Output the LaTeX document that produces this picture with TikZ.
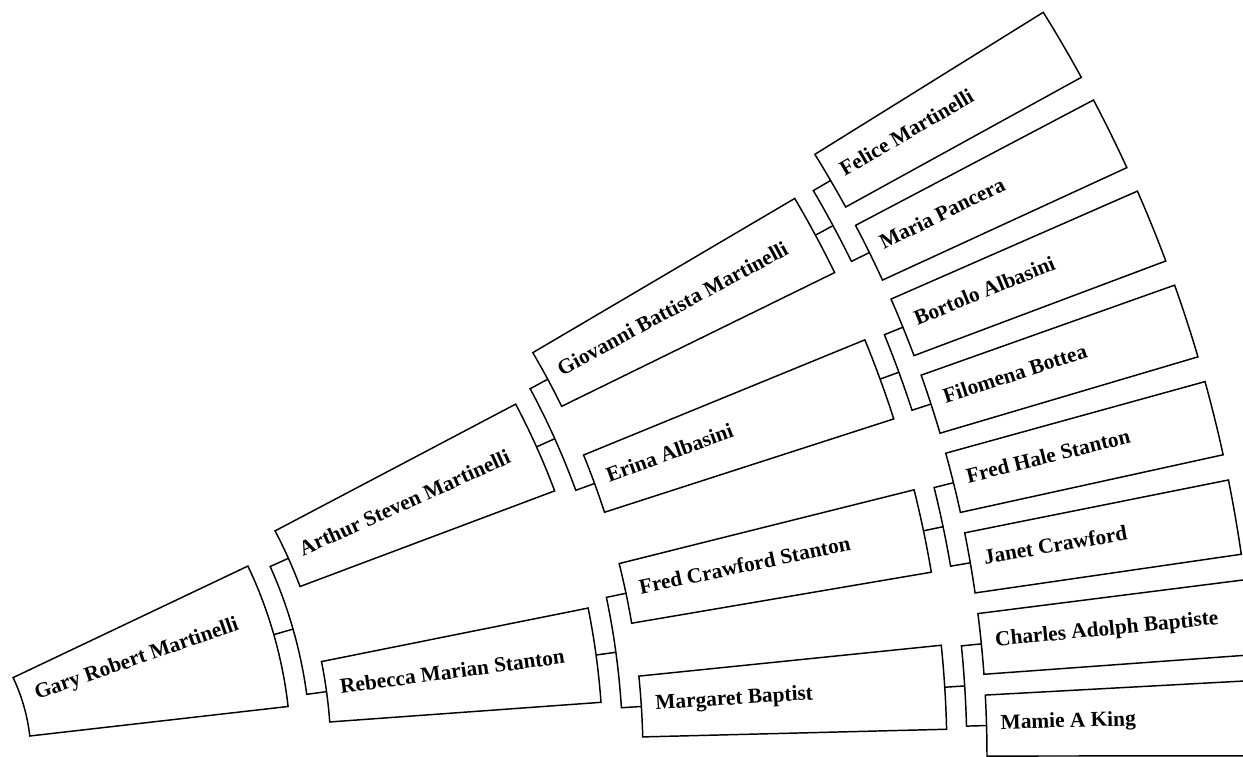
\documentclass[tikz,border=0pt]{standalone}
\usepackage{fontspec}
\setmainfont{Liberation Serif}
\usetikzlibrary{calc}
\tikzset{
  boxline/.style={draw=black, line width=1.1pt, fill=white, line join=miter},
  connline/.style={draw=black, line width=1.1pt},
  nm/.style={font=\fontsize{16}{19}\selectfont\bfseries, inner sep=0pt, anchor=base west},
}
\newcommand\fperson[6]{%
  \pgfmathsetmacro\plo{#2-#3}%
  \pgfmathsetmacro\phi{#2+#3}%
  \draw[boxline] (\plo:#4) -- (\plo:#5) arc[start angle=\plo, end angle=\phi, radius=#5]
     -- (\phi:#4) arc[start angle=\phi, end angle=\plo, radius=#4] -- cycle;
  \coordinate (#1-i) at (#2:#4);
  \coordinate (#1-o) at (#2:#5);
  \pgfmathsetmacro\prt{#4+14}%
  \pgfmathsetmacro\pdn{#2-90}%
  \coordinate (#1-t) at ($(#2:\prt)+(\pdn:4)$);
}
\newcommand\fname[3]{\node[nm, rotate=#2] (#1) at (#1-t) {#3};}
\newcommand\fconn[7]{% parent, child1, child2, theta parent, theta1, theta2, rmid
  \coordinate (#1-m) at (#4:#7);
  \coordinate (#2-m) at (#5:#7);
  \coordinate (#3-m) at (#6:#7);
  \draw[connline] (#1-o) -- (#1-m);
  \draw[connline] (#2-i) -- (#2-m) arc[start angle=#5, end angle=#6, radius=#7] -- (#3-i);
}
\begin{document}
\begin{tikzpicture}[x=0.75pt,y=0.75pt]
\useasboundingbox (0,0) rectangle (1243,757);
\clip (0,0) rectangle (1243,757);
\begin{scope}[shift={(-154,0)}]
  % generation 0
  \fperson{gary}{15.965}{9.446}{185}{445}{}
  % generation 1
  \fperson{arthur}{24.185}{3.603}{485}{757}{}
  \fperson{rebecca}{7.745}{3.603}{485}{757}{}
  % generation 2
  \fperson{giovanni}{28.295}{2.191}{797}{1101}{}
  \fperson{erina}{20.075}{2.191}{797}{1101}{}
  \fperson{fredc}{11.855}{2.191}{797}{1101}{}
  \fperson{margaret}{3.635}{2.191}{797}{1101}{}
  % generation 3
  \fperson{felice}{30.35}{1.532}{1141}{1410}{}
  \fperson{maria}{26.24}{1.532}{1141}{1410}{}
  \fperson{bortolo}{22.13}{1.532}{1141}{1410}{}
  \fperson{filomena}{18.02}{1.532}{1141}{1410}{}
  \fperson{fredh}{13.91}{1.532}{1141}{1410}{}
  \fperson{janet}{9.80}{1.532}{1141}{1410}{}
  \fperson{charles}{5.69}{1.532}{1141}{1410}{}
  \fperson{mamie}{1.58}{1.532}{1141}{1410}{}
  % connectors
  \fconn{gary}{arthur}{rebecca}{15.965}{24.185}{7.745}{465}
  \fconn{arthur}{giovanni}{erina}{24.185}{28.295}{20.075}{777}
  \fconn{rebecca}{fredc}{margaret}{7.745}{11.855}{3.635}{777}
  \fconn{giovanni}{felice}{maria}{28.295}{30.35}{26.24}{1121}
  \fconn{erina}{bortolo}{filomena}{20.075}{22.13}{18.02}{1121}
  \fconn{fredc}{fredh}{janet}{11.855}{13.91}{9.80}{1121}
  \fconn{margaret}{charles}{mamie}{3.635}{5.69}{1.58}{1121}
  % names
  \coordinate (gary-t) at (191,57);
  \fname{gary}{19.2}{Gary Robert Martinelli}
  \fname{arthur}{24.185}{Arthur Steven Martinelli}
  \fname{rebecca}{7.745}{Rebecca Marian Stanton}
  \fname{giovanni}{28.295}{Giovanni Battista Martinelli}
  \fname{erina}{20.075}{Erina Albasini}
  \fname{fredc}{11.855}{Fred Crawford Stanton}
  \fname{margaret}{3.635}{Margaret Baptist}
  \fname{felice}{30.35}{Felice Martinelli}
  \fname{maria}{26.24}{Maria Pancera}
  \fname{bortolo}{22.13}{Bortolo Albasini}
  \fname{filomena}{18.02}{Filomena Bottea}
  \fname{fredh}{13.91}{Fred Hale Stanton}
  \fname{janet}{9.80}{Janet Crawford}
  \fname{charles}{5.69}{Charles Adolph Baptiste}
  \fname{mamie}{1.58}{Mamie A King}
\end{scope}
\end{tikzpicture}
\end{document}
